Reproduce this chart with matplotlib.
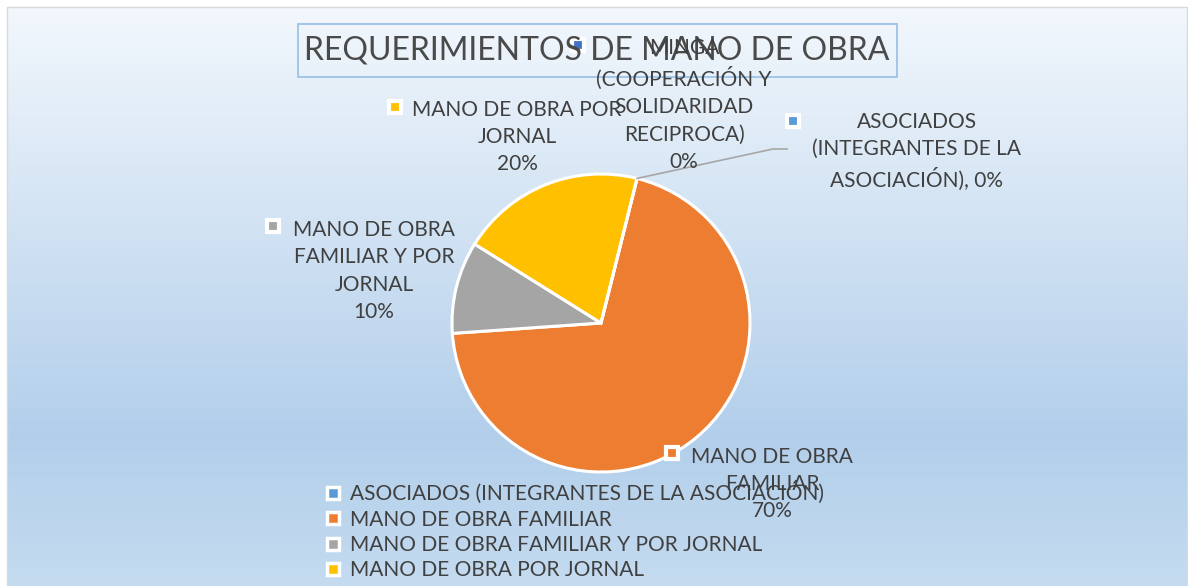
import numpy as np
import matplotlib
matplotlib.use('Agg')
import matplotlib.pyplot as plt
from matplotlib.patches import Rectangle
from matplotlib.lines import Line2D

plt.rcParams['font.family'] = ['Lato', 'DejaVu Sans']

# datos del grafico
categorias = ['ASOCIADOS (INTEGRANTES DE LA ASOCIACIÓN)',
              'MANO DE OBRA FAMILIAR',
              'MANO DE OBRA FAMILIAR Y POR JORNAL',
              'MANO DE OBRA POR JORNAL',
              'MINGA (COOPERACIÓN Y SOLIDARIDAD RECIPROCA)']
porcentajes = [0, 70, 10, 20, 0]
colores = ['#5b9bd5', '#ed7d31', '#a5a5a5', '#ffc000', '#4472c4']
# nombres tal como salen partidos en las etiquetas
nombres_etiqueta = ['ASOCIADOS\n(INTEGRANTES DE LA\nASOCIACIÓN),',
                    'MANO DE OBRA\nFAMILIAR',
                    'MANO DE OBRA\nFAMILIAR Y POR\nJORNAL',
                    'MANO DE OBRA POR\nJORNAL',
                    'MINGA\n(COOPERACIÓN Y\nSOLIDARIDAD\nRECIPROCA)']
titulo = 'REQUERIMIENTOS DE MANO DE OBRA'

W, H = 1188, 586
fig = plt.figure(figsize=(W / 100, H / 100), dpi=100)

# fondo degradado
bg = fig.add_axes([0, 0, 1, 1], zorder=0)
bg.set_xlim(0, W)
bg.set_ylim(H, 0)
bg.axis('off')
t = np.linspace(0, 1, 300)
c_top = np.array([0.95, 0.97, 0.99])
c_mid = np.array([0.70, 0.81, 0.92])
c_bot = np.array([0.77, 0.86, 0.94])
grad = np.where(t[:, None] < 0.74,
                c_top + (c_mid - c_top) * (t[:, None] / 0.74),
                c_mid + (c_bot - c_mid) * ((t[:, None] - 0.74) / 0.26))
bg.imshow(grad[:, None, :], extent=(7, W, H, 7), aspect='auto')
bg.add_patch(Rectangle((7, 7), W - 8, H, fill=False, edgecolor='#d9d9d9', linewidth=1))

# pastel
cx, cy, r = 601, 323, 149
pie_ax = fig.add_axes([(cx - r) / W, (H - cy - r) / H, 2 * r / W, 2 * r / H], zorder=1)
wedges, _ = pie_ax.pie(porcentajes, colors=colores, startangle=76, counterclock=False,
                       wedgeprops=dict(edgecolor='white', linewidth=2.2))
pie_ax.set_xlim(-1, 1)
pie_ax.set_ylim(-1, 1)
pie_ax.axis('off')

# capa de textos en pixeles
ov = fig.add_axes([0, 0, 1, 1], zorder=2)
ov.set_xlim(0, W)
ov.set_ylim(H, 0)
ov.axis('off')
ov.patch.set_alpha(0)

txt_color = '#404040'
fs = 15

# titulo
ov.add_patch(Rectangle((298, 24), 599, 53, fill=False, edgecolor='#9dc3e6', linewidth=1.3))
ov.text(597, 51, titulo, fontsize=23, color='#4a4a4a', ha='center', va='center')

# etiquetas de datos: centro del bloque y posicion de la marca
pos_texto = [(917, 151), (772, 484), (374, 271), (517, 137), (684, 105)]
pos_marca = [(793, 121), (672, 453), (273, 226), (395, 107), (578, 45)]
for i in range(len(porcentajes)):
    sep = ' ' if i == 0 else '\n'
    ov.text(pos_texto[i][0], pos_texto[i][1], f'{nombres_etiqueta[i]}{sep}{porcentajes[i]}%',
            fontsize=fs, color=txt_color, ha='center', va='center',
            multialignment='center', linespacing=1.45)
    ov.plot(*pos_marca[i], marker='s', markersize=9, markerfacecolor=colores[i],
            markeredgecolor='white', markeredgewidth=3)

# linea guia de ASOCIADOS
ang = np.deg2rad(wedges[0].theta1)
px, py = pie_ax.transData.transform((np.cos(ang), np.sin(ang)))
ov.plot([px, 773, 787], [H - py, 149, 149], color='#a6a6a6', linewidth=1.2)

# leyenda (solo las cuatro primeras entradas visibles)
handles = [Line2D([], [], linestyle='none', marker='s', markersize=9,
                  markerfacecolor=colores[i], markeredgecolor='white', markeredgewidth=2.5)
           for i in range(4)]
fig.legend(handles, categorias[:4], loc='upper left', bbox_to_anchor=(326 / W, 1 - 481 / H),
           frameon=False, fontsize=fs, labelcolor=txt_color, handlelength=0.7,
           handletextpad=0.45, labelspacing=0.26, borderpad=0, borderaxespad=0)

fig.savefig('out.png', dpi=100)
